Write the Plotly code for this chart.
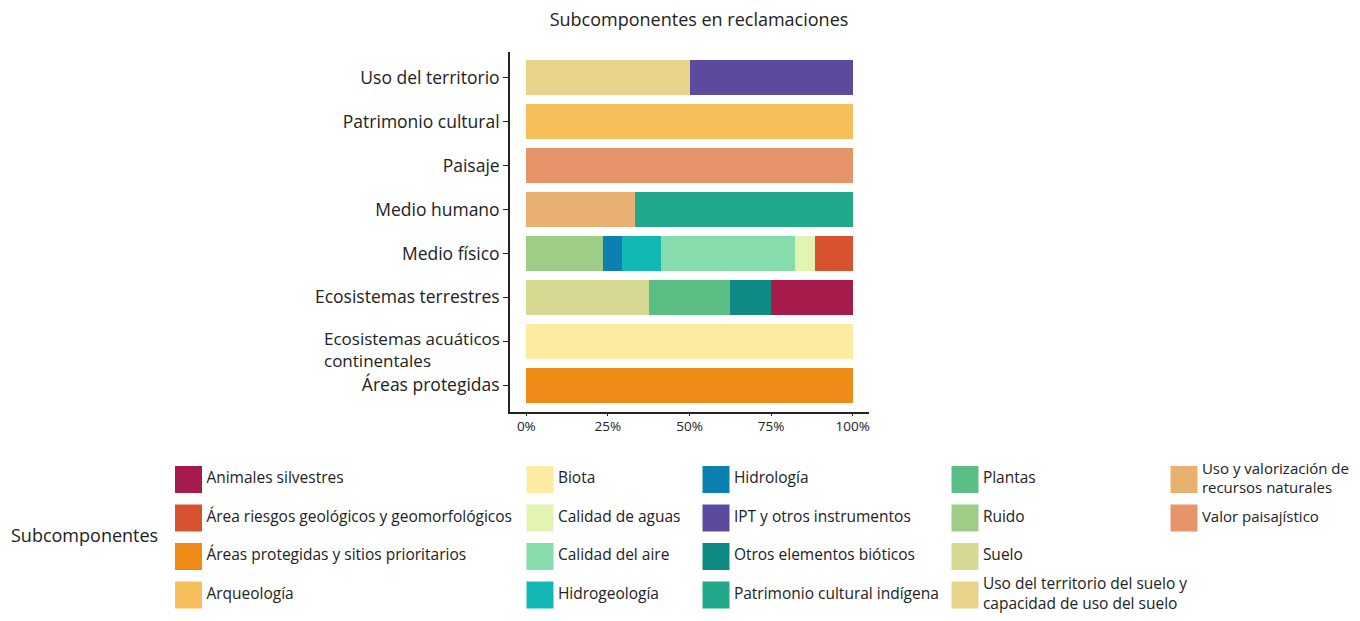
import pandas as pd
import plotly.graph_objects as go

# components, top to bottom
components = ["Uso del territorio", "Patrimonio cultural", "Paisaje", "Medio humano",
              "Medio físico", "Ecosistemas terrestres",
              "Ecosistemas acuáticos continentales", "Áreas protegidas"]

# subcomponents in legend (alphabetical) order
subcomponents = ["Animales silvestres", "Área riesgos geológicos y geomorfológicos",
                 "Áreas protegidas y sitios prioritarios", "Arqueología",
                 "Biota", "Calidad de aguas", "Calidad del aire", "Hidrogeología",
                 "Hidrología", "IPT y otros instrumentos", "Otros elementos bióticos",
                 "Patrimonio cultural indígena", "Plantas", "Ruido", "Suelo",
                 "Uso del territorio del suelo y capacidad de uso del suelo",
                 "Uso y valorización de recursos naturales", "Valor paisajístico"]

sub_colors = ["#A61B4B", "#D9522F", "#EE8B17", "#F6BF5B",
              "#FDEBA2", "#E2F3B2", "#86DDAB", "#12B8B4",
              "#0B80B1", "#5B4A9E", "#0E8A84",
              "#22A98B", "#5BBE85", "#9DCD86", "#D5D992",
              "#E8D38B", "#E8B071", "#E6956A"]

# segments (share of claims, %)
seg_component = ["Uso del territorio", "Uso del territorio",
                 "Patrimonio cultural", "Paisaje",
                 "Medio humano", "Medio humano",
                 "Medio físico", "Medio físico", "Medio físico", "Medio físico", "Medio físico", "Medio físico",
                 "Ecosistemas terrestres", "Ecosistemas terrestres", "Ecosistemas terrestres", "Ecosistemas terrestres",
                 "Ecosistemas acuáticos continentales", "Áreas protegidas"]
seg_subcomponent = ["Uso del territorio del suelo y capacidad de uso del suelo", "IPT y otros instrumentos",
                    "Arqueología", "Valor paisajístico",
                    "Uso y valorización de recursos naturales", "Patrimonio cultural indígena",
                    "Ruido", "Hidrología", "Hidrogeología", "Calidad del aire", "Calidad de aguas",
                    "Área riesgos geológicos y geomorfológicos",
                    "Suelo", "Plantas", "Otros elementos bióticos", "Animales silvestres",
                    "Biota", "Áreas protegidas y sitios prioritarios"]
seg_share = [50, 50,
             100, 100,
             33.3, 66.7,
             23.5, 5.9, 11.8, 41.2, 5.9, 11.7,
             37.5, 25, 12.5, 25,
             100, 100]

legend_labels = [s for s in subcomponents]
legend_labels[15] = "Uso del territorio del suelo y<br>capacidad de uso del suelo"
legend_labels[16] = "Uso y valorización de<br>recursos naturales"

df = pd.DataFrame({"component": seg_component, "sub": seg_subcomponent, "share": seg_share})

FONT = "Open Sans"
OFF = 8  # the page body adds an 8px margin
W, H = 1360 - OFF, 621 - OFF


def px(x):
    return (x - OFF) / W


def py(y):
    return 1 - (y - OFF) / H


fig = go.Figure()

# stacked bars: last legend entry sits at the left
for name, color in reversed(list(zip(subcomponents, sub_colors))):
    d = df[df["sub"] == name]
    fig.add_trace(go.Bar(x=d["share"], y=d["component"], orientation="h", name=name,
                         marker=dict(color=color, line=dict(width=0)), width=0.8,
                         showlegend=False))

# legend drawn as a grid of squares on a hidden axis (4 rows per column)
col_x = [188.5, 540, 716, 965, 1184]
row_y = [479.5, 518, 556.5, 595]
fig.add_trace(go.Scatter(
    x=[col_x[i // 4] for i in range(len(subcomponents))],
    y=[row_y[i % 4] for i in range(len(subcomponents))],
    mode="markers+text", text=legend_labels, textposition="middle right",
    textfont=dict(family=FONT, size=[15.5] * 16 + [15, 15], color="#222"),
    marker=dict(symbol="square", size=27, color=sub_colors, line=dict(width=0)),
    xaxis="x2", yaxis="y2", showlegend=False, hoverinfo="skip", cliponaxis=False))

ticktext = [c if c != "Ecosistemas acuáticos continentales" else "" for c in components]

fig.update_layout(
    width=W, height=H,
    barmode="stack",
    paper_bgcolor="white", plot_bgcolor="rgba(0,0,0,0)",
    margin=dict(l=0, r=0, t=0, b=0),
    font=dict(family=FONT, color="#222"),
    title=dict(text="Subcomponentes en reclamaciones", x=px(699), y=py(20),
               xanchor="center", yanchor="middle", font=dict(size=18, color="#222")),
    xaxis=dict(domain=[px(510), px(869)], range=[-5, 105], tickvals=[0, 25, 50, 75, 100],
               ticktext=["0%", "25%", "50%", "75%", "100%"], showgrid=False, zeroline=False,
               showline=True, linecolor="#222", linewidth=1.7, ticks="outside", ticklen=3,
               tickcolor="#222", ticklabelstandoff=-2, tickfont=dict(size=13.5, color="#222")),
    yaxis=dict(domain=[py(411.5), py(51.5)], type="category",
               categoryorder="array", categoryarray=components[::-1],
               tickvals=components, ticktext=ticktext,
               range=[-0.6, len(components) - 0.4], showgrid=False, zeroline=False,
               showline=True, linecolor="#222", linewidth=1.7, ticks="outside", ticklen=5,
               tickcolor="#222", tickfont=dict(size=17.5, color="#222")),
    xaxis2=dict(domain=[0, 1], range=[OFF, W + OFF], visible=False, fixedrange=True),
    yaxis2=dict(domain=[0, 1], range=[H + OFF, OFF], visible=False, fixedrange=True),
)

fig.add_annotation(text="Ecosistemas acuáticos<br>continentales", xref="paper", x=px(501),
                   yref="y", y="Ecosistemas acuáticos continentales", xanchor="right",
                   yanchor="top", yshift=15, align="left", showarrow=False, borderpad=0,
                   font=dict(size=17, color="#222"))
fig.add_annotation(text="Subcomponentes", xref="x2", yref="y2", x=9, y=535,
                   xanchor="left", yanchor="middle", showarrow=False,
                   font=dict(size=18, color="#222"))

fig.write_html("out.html")
